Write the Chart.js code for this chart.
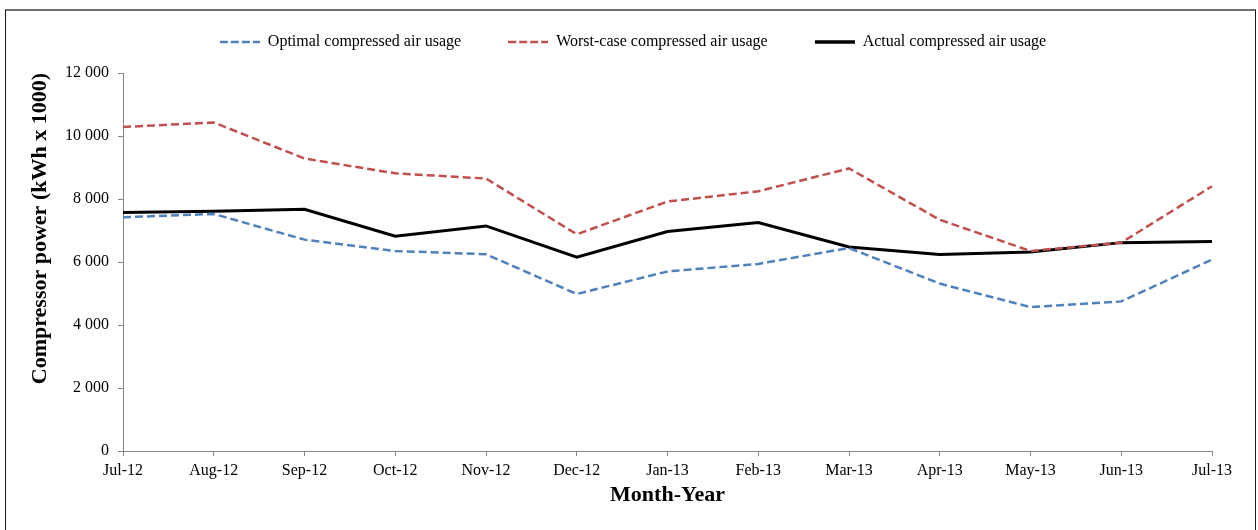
<!DOCTYPE html>
<html>
<head>
<meta charset="utf-8">
<script src="https://cdn.jsdelivr.net/npm/chart.js@4.4.1/dist/chart.umd.min.js"></script>
<style>
  html, body { margin: 0; padding: 0; background: #ffffff; }
  #wrap { width: 1258px; height: 530px; position: relative; }
</style>
</head>
<body>
<div id="wrap"><canvas id="c" width="1258" height="530"></canvas></div>
<script>
// ---- Data ----
const categories = ['Jul-12','Aug-12','Sep-12','Oct-12','Nov-12','Dec-12','Jan-13','Feb-13','Mar-13','Apr-13','May-13','Jun-13','Jul-13'];
const optimalUsage   = [7420, 7525, 6710, 6350, 6245, 4985, 5700, 5940, 6445, 5315, 4570, 4750, 6075];
const worstCaseUsage = [10285, 10430, 9285, 8815, 8650, 6880, 7920, 8245, 8970, 7340, 6350, 6615, 8405];
const actualUsage    = [7570, 7610, 7675, 6820, 7145, 6150, 6970, 7250, 6475, 6240, 6320, 6615, 6648];
const seriesNames = ['Optimal compressed air usage', 'Worst-case compressed air usage', 'Actual compressed air usage'];
const yTickValues = [0, 2000, 4000, 6000, 8000, 10000, 12000];
const yTickLabels = ['0', '2 000', '4 000', '6 000', '8 000', '10 000', '12 000'];
const yTitle = 'Compressor power (kWh x 1000)';
const xTitle = 'Month-Year';

const FONT = '"Liberation Serif", "Times New Roman", serif';
const AXIS = '#868686';

// small legend sample icons (line swatches)
function swatch(color, width, dash) {
  const cv = document.createElement('canvas');
  cv.width = 40; cv.height = 6;
  const g = cv.getContext('2d');
  g.strokeStyle = color;
  g.lineWidth = width;
  g.setLineDash(dash);
  g.beginPath();
  g.moveTo(0, 3); g.lineTo(40, 3);
  g.stroke();
  return cv;
}

const framePlugin = {
  id: 'framePlugin',
  afterLayout(chart) {
    const L = chart.legend;
    if (!L) return;
    const pad = L.options.labels.padding;
    const d = 42 - (L.top + pad + 8);
    L.top += d;
    L.left += 24; L.right += 24;
  },
  beforeDraw(chart) {
    const ctx = chart.ctx;
    ctx.save();
    ctx.fillStyle = '#ffffff';
    ctx.fillRect(0, 0, chart.width, chart.height);
    ctx.restore();
  },
  afterDraw(chart) {
    const ctx = chart.ctx;
    ctx.save();
    ctx.strokeStyle = '#707070';
    ctx.lineWidth = 2;
    ctx.beginPath();
    ctx.moveTo(5, 10); ctx.lineTo(1256, 10);
    ctx.stroke();
    ctx.strokeStyle = '#1a1a1a';
    ctx.lineWidth = 1;
    ctx.beginPath();
    ctx.moveTo(5.5, 10); ctx.lineTo(5.5, 530);
    ctx.moveTo(1255.5, 10); ctx.lineTo(1255.5, 530);
    ctx.stroke();
    ctx.restore();
  }
};

new Chart(document.getElementById('c'), {
  type: 'line',
  data: {
    labels: categories,
    datasets: [
      { label: seriesNames[0], data: optimalUsage, borderColor: '#4F81BD', backgroundColor: '#4F81BD',
        borderWidth: 2.5, borderDash: [8, 4], pointRadius: 0, tension: 0, fill: false,
        pointStyle: swatch('#4F81BD', 2.5, [8, 3]) },
      { label: seriesNames[1], data: worstCaseUsage, borderColor: '#C0504D', backgroundColor: '#C0504D',
        borderWidth: 2.5, borderDash: [8, 4], pointRadius: 0, tension: 0, fill: false,
        pointStyle: swatch('#C0504D', 2.5, [8, 3]) },
      { label: seriesNames[2], data: actualUsage, borderColor: '#000000', backgroundColor: '#000000',
        borderWidth: 3, pointRadius: 0, tension: 0, fill: false,
        pointStyle: swatch('#000000', 3.5, []) }
    ]
  },
  options: {
    responsive: false,
    animation: false,
    devicePixelRatio: 1,
    layout: { padding: { left: 6, right: 46, top: 13, bottom: 0 } },
    plugins: {
      tooltip: { enabled: false },
      legend: {
        position: 'top',
        maxHeight: 60,
        labels: {
          usePointStyle: true,
          pointStyleWidth: 40,
          padding: 47,
          color: '#000000',
          font: { family: FONT, size: 16 }
        }
      }
    },
    scales: {
      x: {
        type: 'category',
        offset: false,
        afterFit(scale) { scale.height = 79; },
        grid: { drawOnChartArea: false, drawTicks: true, tickLength: 5, color: AXIS },
        border: { color: AXIS, width: 1 },
        ticks: { color: '#000000', padding: 5, maxRotation: 0, autoSkip: false, font: { family: FONT, size: 16 } },
        title: { display: true, text: xTitle, color: '#000000', padding: { top: 0, bottom: 21 },
          font: { family: FONT, size: 22, weight: 'bold' } }
      },
      y: {
        min: 0, max: 12000,
        afterFit(scale) { scale.width = 117; },
        afterBuildTicks(scale) { scale.ticks = yTickValues.map(v => ({ value: v })); },
        grid: { drawOnChartArea: false, drawTicks: true, tickLength: 5, color: AXIS },
        border: { color: AXIS, width: 1 },
        ticks: { color: '#000000', padding: 9, font: { family: FONT, size: 16 },
          callback: (v) => { const i = yTickValues.indexOf(v); return i >= 0 ? yTickLabels[i] : ''; } },
        title: { display: true, text: yTitle, color: '#000000', align: 'end', padding: { top: 21, bottom: 0 },
          font: { family: FONT, size: 22, weight: 'bold' } }
      }
    }
  },
  plugins: [framePlugin]
});
</script>
</body>
</html>
